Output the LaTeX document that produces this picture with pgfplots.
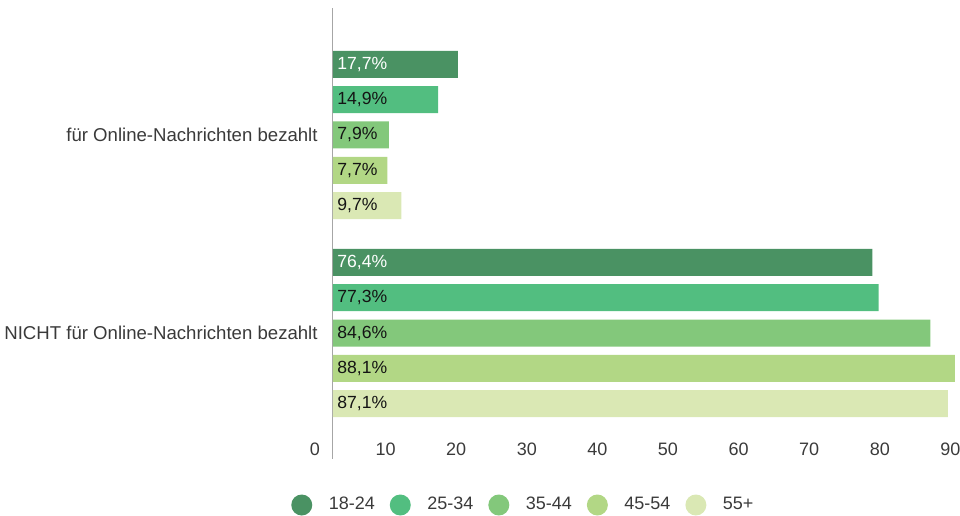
\documentclass[border=0pt]{standalone}
\usepackage{fontspec}
\setmainfont{Liberation Sans}
\usepackage{pgfplots}
\pgfplotsset{compat=1.18}

\definecolor{cA}{HTML}{4A9263}
\definecolor{cB}{HTML}{52BE80}
\definecolor{cC}{HTML}{83C87B}
\definecolor{cD}{HTML}{B2D785}
\definecolor{cE}{HTML}{DAE8B4}
\definecolor{txt}{HTML}{3A3A3A}

\begin{document}
\begin{tikzpicture}
\begin{axis}[
    at={(166.5pt,28pt)}, anchor=south west,
    scale only axis, width=317.7pt, height=225.5pt,
    xmin=0, xmax=90, ymin=-0.636, ymax=1.641,
    xbar, bar width=13.5pt,
    axis lines=left,
    x axis line style={draw=none},
    y axis line style={draw=gray!70, line width=0.5pt, -},
    major tick length=0pt,
    xtick={0,10,...,90},
    ytick={0,1},
    yticklabels={NICHT für Online-Nachrichten bezahlt, für Online-Nachrichten bezahlt},
    tick label style={font=\fontsize{9}{11}\selectfont, text=txt},
    xticklabel style={anchor=center, xshift=-9pt, yshift=5pt},
    yticklabel style={inner sep=0pt, anchor=east, xshift=-7.5pt,
        font=\fontsize{9.3}{11}\selectfont},
    /pgf/number format/assume math mode=true,
    visualization depends on={x \as \xv},
    nodes near coords={\pgfmathprintnumber[fixed,precision=1,fixed zerofill,use comma]{\xv}\%},
    every node near coord/.append style={anchor=west, inner xsep=0pt,
        xshift=-\xv*3.53pt+2pt,
        font=\fontsize{8.8}{10}\selectfont, text=black!92},
    legend columns=5,
    legend image code/.code={\fill[#1, draw=none] (5.25pt,0pt) circle (5.25pt);},
    legend style={at={(0.298,-0.102)}, anchor=center, draw=none, fill=none,
        font=\fontsize{9}{11}\selectfont, text=txt,
        nodes={inner xsep=0pt},
        /tikz/every odd column/.append style={column sep=8.25pt},
        /tikz/every even column/.append style={column sep=7.5pt}},
]
\addplot[fill=cA, draw=none, bar shift=35.3pt,
    every node near coord/.append style={text=white}]
    coordinates {(17.7,1) (76.4,0)};
\addlegendentry{18-24}
\addplot[fill=cB, draw=none, bar shift=17.65pt]
    coordinates {(14.9,1) (77.3,0)};
\addlegendentry{25-34}
\addplot[fill=cC, draw=none, bar shift=0pt]
    coordinates {(7.9,1) (84.6,0)};
\addlegendentry{35-44}
\addplot[fill=cD, draw=none, bar shift=-17.65pt]
    coordinates {(7.7,1) (88.1,0)};
\addlegendentry{45-54}
\addplot[fill=cE, draw=none, bar shift=-35.3pt]
    coordinates {(9.7,1) (87.1,0)};
\addlegendentry{55+}
\end{axis}
\pgfresetboundingbox
\path (0pt,0pt) rectangle (480pt,257.5pt);
\end{tikzpicture}
\end{document}
